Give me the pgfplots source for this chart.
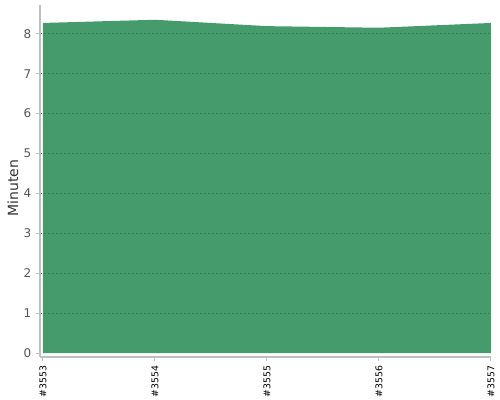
\documentclass[border=0pt]{standalone}
\usepackage{fontspec}
\setmainfont{DejaVu Sans}
\usepackage{pgfplots}
\pgfplotsset{compat=1.18}

\definecolor{areagreen}{HTML}{459B6C}
\definecolor{gridgreen}{HTML}{33804F}
\definecolor{axisgray}{HTML}{C0C0C0}
\definecolor{labelgray}{HTML}{555555}

\begin{document}
\begin{tikzpicture}
% 1 px = 0.75pt, axis origin near pixel (40,357)
\useasboundingbox (-32.25pt,-35.25pt) rectangle (342.75pt,264.75pt);
\begin{axis}[
  at={(0pt,0pt)}, anchor=origin,
  scale only axis,
  width=338.25pt, height=264pt,
  xmin=-0.027, xmax=4,
  ymin=-0.1, ymax=8.72,
  axis x line*=bottom, axis y line*=left,
  axis line style={axisgray, line width=0.9pt, -},
  xtick={0,1,2,3,4},
  xticklabels={\#3553,\#3554,\#3555,\#3556,\#3557},
  x tick label style={rotate=90, anchor=east, font=\fontsize{7}{8}\selectfont, text=black},
  ytick={1,2,...,8},
  extra y ticks={0},
  extra y tick style={grid=none},
  y tick label style={font=\fontsize{9}{10}\selectfont, text=labelgray},
  /pgf/number format/assume math mode=true,
  tick style={axisgray, line width=0.75pt},
  tick align=outside,
  major tick length=3pt,
  ymajorgrids,
  grid style={gridgreen, line width=0.5pt, dash pattern=on 1.5pt off 1.5pt},
  axis on top,
  ylabel={Minuten},
  ylabel style={font=\fontsize{10.5}{12}\selectfont, text=black!80,
    at={([xshift=-20.25pt]axis description cs:0,0.48)}, anchor=center},
  clip=false,
]
\addplot[fill=areagreen, draw=none] coordinates {
  (0,0) (0,8.27) (1,8.35) (2,8.19) (3,8.15) (4,8.27) (4,0)
} -- cycle;
\end{axis}
\end{tikzpicture}
\end{document}
